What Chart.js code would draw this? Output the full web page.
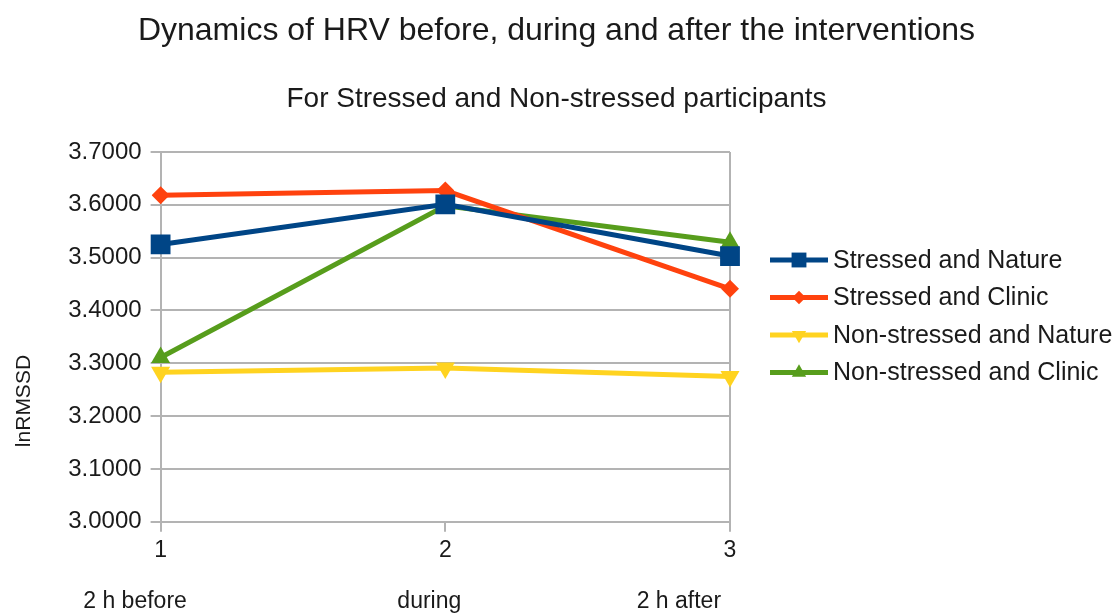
<!DOCTYPE html>
<html>
<head>
<meta charset="utf-8">
<script src="https://cdn.jsdelivr.net/npm/chart.js@4/dist/chart.umd.min.js"></script>
<style>
  html, body { margin: 0; padding: 0; background: #fff; }
  #wrap { width: 1113px; height: 616px; }
</style>
</head>
<body>
<div id="wrap"><canvas id="c"></canvas></div>
<script>
// x categories: tick number + phase name
const xNumbers = ['1', '2', '3'];
const xPhases = ['2 h before', 'during', '2 h after'];

const stressedNature = [3.525, 3.601, 3.503];
const stressedClinic = [3.618, 3.627, 3.441];
const nonStressedNature = [3.283, 3.291, 3.275];
const nonStressedClinic = [3.311, 3.598, 3.529];

const seriesNames = ['Stressed and Nature', 'Stressed and Clinic', 'Non-stressed and Nature', 'Non-stressed and Clinic'];
const seriesColors = ['#004586', '#ff420e', '#ffd320', '#579d1c'];

const titleText = 'Dynamics of HRV before, during and after the interventions';
const subtitleText = 'For Stressed and Non-stressed participants';
const yTitle = 'lnRMSSD';

const FONT = '"Liberation Sans", Arial, sans-serif';
const TEXT = '#1a1a1a';

// the phase names sit a bit left of their tick in the original (trailing blanks)
const trail = [8, 5, 16];
const nb = (n) => '\u00a0'.repeat(n);

function mk(i, data, style, radius, rot) {
  return {
    label: seriesNames[i],
    data: data,
    borderColor: seriesColors[i],
    backgroundColor: seriesColors[i],
    borderWidth: 5,
    pointStyle: style,
    pointRadius: radius,
    pointRotation: rot || 0,
    pointBorderWidth: 0,
    tension: 0
  };
}

// titles centred on the whole canvas (layout padding would shift the built-in ones)
const headings = {
  id: 'headings',
  afterDraw(chart) {
    const ctx = chart.ctx;
    const cx = chart.width / 2;
    ctx.save();
    ctx.fillStyle = TEXT;
    ctx.textAlign = 'center';
    ctx.textBaseline = 'middle';
    ctx.font = '32px ' + FONT;
    ctx.fillText(titleText, cx, 31);
    ctx.font = '28px ' + FONT;
    ctx.fillText(subtitleText, cx, 99);
    ctx.restore();
  }
};

// legend the LibreOffice way: line with the marker on it
const sideLegend = {
  id: 'sideLegend',
  afterDraw(chart) {
    const ctx = chart.ctx;
    const area = chart.chartArea;
    const x0 = area.right + 40;
    const y0 = area.top + 108;
    const gap = 37.5;
    ctx.save();
    chart.data.datasets.forEach((ds, i) => {
      const y = y0 + i * gap;
      ctx.strokeStyle = ds.borderColor;
      ctx.lineWidth = 5;
      ctx.beginPath();
      ctx.moveTo(x0, y);
      ctx.lineTo(x0 + 58, y);
      ctx.stroke();
      ctx.fillStyle = ds.backgroundColor;
      ctx.strokeStyle = ds.borderColor;
      Chart.helpers.drawPoint(ctx, {
        pointStyle: ds.pointStyle,
        rotation: ds.pointRotation,
        radius: ds.pointRadius * 0.75,
        borderWidth: 0
      }, x0 + 29, y);
      ctx.fillStyle = TEXT;
      ctx.font = '25px ' + FONT;
      ctx.textAlign = 'left';
      ctx.textBaseline = 'middle';
      ctx.fillText(ds.label, x0 + 63, y + 1);
    });
    ctx.restore();
  }
};

new Chart(document.getElementById('c'), {
  type: 'line',
  data: {
    labels: xNumbers.map((n, i) => [n, '', xPhases[i] + nb(trail[i])]),
    datasets: [
      mk(0, stressedNature, 'rect', 14),
      mk(1, stressedClinic, 'rectRot', 9),
      mk(2, nonStressedNature, 'triangle', 11, 180),
      mk(3, nonStressedClinic, 'triangle', 11)
    ]
  },
  options: {
    responsive: true,
    maintainAspectRatio: false,
    animation: false,
    layout: { padding: { left: 8, right: 383, top: 152, bottom: -5 } },
    plugins: {
      legend: { display: false },
      tooltip: { enabled: false },
      title: { display: false }
    },
    scales: {
      x: {
        offset: false,
        grid: {
          color: (c) => (c.index === 1 ? 'rgba(0,0,0,0)' : '#b3b3b3'),
          tickColor: '#b3b3b3',
          lineWidth: 2,
          tickLength: 10
        },
        border: { display: false },
        ticks: {
          color: TEXT,
          font: { family: FONT, size: 23, lineHeight: 1.12 },
          maxRotation: 0,
          autoSkip: false,
          padding: 6
        }
      },
      y: {
        min: 3.0,
        max: 3.7,
        grid: { color: '#b3b3b3', lineWidth: 2, tickLength: 10 },
        border: { color: '#b3b3b3', width: 2 },
        ticks: {
          stepSize: 0.1,
          color: TEXT,
          font: { family: FONT, size: 24 },
          padding: 9,
          callback: (v) => v.toFixed(4)
        },
        title: {
          display: true,
          // original title sits below the axis middle
          text: yTitle + nb(22),
          color: TEXT,
          font: { family: FONT, size: 21 },
          padding: { bottom: 22 }
        }
      }
    }
  },
  plugins: [headings, sideLegend]
});
</script>
</body>
</html>
